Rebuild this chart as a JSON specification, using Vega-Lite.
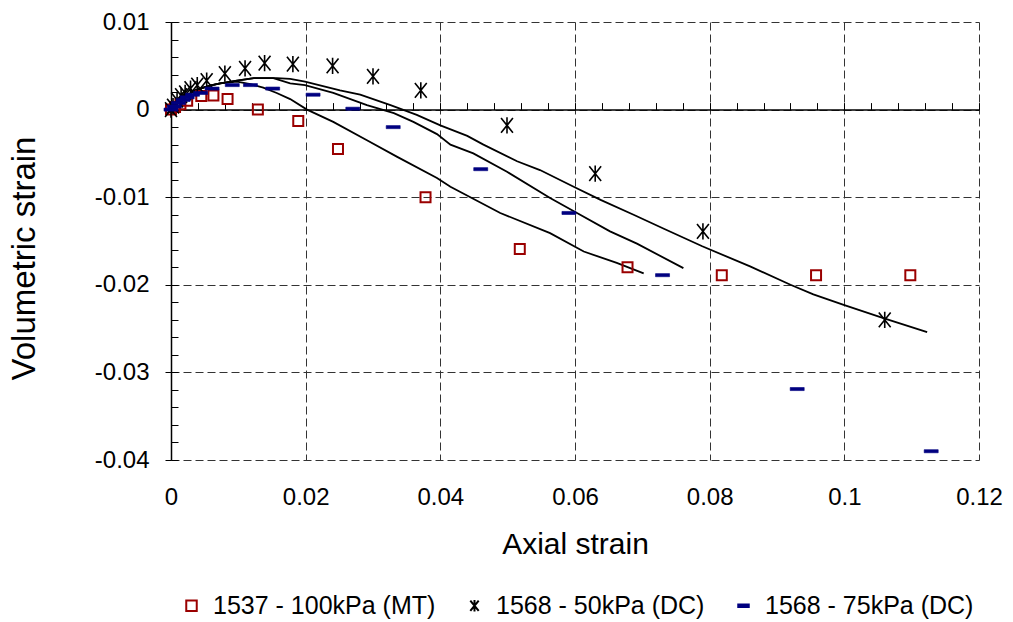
{
  "$schema": "https://vega.github.io/schema/vega-lite/v6.json",
  "width": 808,
  "height": 438,
  "autosize": {"type": "none"},
  "padding": {"left": 171, "top": 22, "right": 34, "bottom": 162},
  "background": "white",
  "config": {
    "view": {"stroke": null},
    "font": "Liberation Sans",
    "axis": {"labelFont": "Liberation Sans", "titleFont": "Liberation Sans", "labelColor": "#000", "titleColor": "#000", "titleFontWeight": "normal"},
    "legend": {"labelFont": "Liberation Sans", "labelFontSize": 25, "labelColor": "#000", "padding": 0, "labelOffset": 9, "columnPadding": 26, "symbolSize": 110, "symbolStrokeWidth": 2, "labelLimit": 400}
  },
  "datasets": {
    "curves": [
      {"curve": "A", "x": 0, "y": 0}, {"curve": "A", "x": 0.00034, "y": 0.00024}, {"curve": "A", "x": 0.0009, "y": 0.00064}, {"curve": "A", "x": 0.0015, "y": 0.0011}, {"curve": "A", "x": 0.0024, "y": 0.0016}, {"curve": "A", "x": 0.0036, "y": 0.0022}, {"curve": "A", "x": 0.0048, "y": 0.0025}, {"curve": "A", "x": 0.0061, "y": 0.0028}, {"curve": "A", "x": 0.0073, "y": 0.003}, {"curve": "A", "x": 0.0098, "y": 0.0032},
      {"curve": "A", "x": 0.0118, "y": 0.0029}, {"curve": "A", "x": 0.0137, "y": 0.0025}, {"curve": "A", "x": 0.0157, "y": 0.0019}, {"curve": "A", "x": 0.0177, "y": 0.0012}, {"curve": "A", "x": 0.0202, "y": 0.0}, {"curve": "A", "x": 0.0241, "y": -0.0014}, {"curve": "A", "x": 0.0291, "y": -0.0035}, {"curve": "A", "x": 0.0336, "y": -0.0054}, {"curve": "A", "x": 0.0395, "y": -0.0078}, {"curve": "A", "x": 0.0415, "y": -0.0088}, {"curve": "A", "x": 0.0489, "y": -0.0118}, {"curve": "A", "x": 0.0563, "y": -0.0141}, {"curve": "A", "x": 0.0613, "y": -0.0162}, {"curve": "A", "x": 0.0662, "y": -0.0175}, {"curve": "A", "x": 0.0702, "y": -0.0187},
      {"curve": "B", "x": 0, "y": 0}, {"curve": "B", "x": 0.00034, "y": 0.00024}, {"curve": "B", "x": 0.0009, "y": 0.00064}, {"curve": "B", "x": 0.0015, "y": 0.0011}, {"curve": "B", "x": 0.0024, "y": 0.0016}, {"curve": "B", "x": 0.0036, "y": 0.0022}, {"curve": "B", "x": 0.0048, "y": 0.0025}, {"curve": "B", "x": 0.0061, "y": 0.0028}, {"curve": "B", "x": 0.0073, "y": 0.003}, {"curve": "B", "x": 0.0098, "y": 0.0033},
      {"curve": "B", "x": 0.0123, "y": 0.0036}, {"curve": "B", "x": 0.0152, "y": 0.0036}, {"curve": "B", "x": 0.0177, "y": 0.003}, {"curve": "B", "x": 0.0199, "y": 0.0028}, {"curve": "B", "x": 0.0241, "y": 0.0019}, {"curve": "B", "x": 0.0291, "y": 0.0005}, {"curve": "B", "x": 0.0331, "y": -0.0004}, {"curve": "B", "x": 0.036, "y": -0.0014}, {"curve": "B", "x": 0.0395, "y": -0.0028}, {"curve": "B", "x": 0.0415, "y": -0.004}, {"curve": "B", "x": 0.0449, "y": -0.005}, {"curve": "B", "x": 0.0499, "y": -0.0071}, {"curve": "B", "x": 0.0563, "y": -0.0101}, {"curve": "B", "x": 0.0603, "y": -0.0118}, {"curve": "B", "x": 0.0652, "y": -0.0139}, {"curve": "B", "x": 0.0692, "y": -0.0153}, {"curve": "B", "x": 0.0761, "y": -0.0181},
      {"curve": "C", "x": 0, "y": 0}, {"curve": "C", "x": 0.00034, "y": 0.00024}, {"curve": "C", "x": 0.0009, "y": 0.00064}, {"curve": "C", "x": 0.0015, "y": 0.0011}, {"curve": "C", "x": 0.0024, "y": 0.0016}, {"curve": "C", "x": 0.0036, "y": 0.0022}, {"curve": "C", "x": 0.0048, "y": 0.0025}, {"curve": "C", "x": 0.0061, "y": 0.0028}, {"curve": "C", "x": 0.0073, "y": 0.003}, {"curve": "C", "x": 0.0098, "y": 0.0033},
      {"curve": "C", "x": 0.0123, "y": 0.0036}, {"curve": "C", "x": 0.0157, "y": 0.0036}, {"curve": "C", "x": 0.0177, "y": 0.0035}, {"curve": "C", "x": 0.0199, "y": 0.0032}, {"curve": "C", "x": 0.0251, "y": 0.0022}, {"curve": "C", "x": 0.0281, "y": 0.0017}, {"curve": "C", "x": 0.0326, "y": 0.0005}, {"curve": "C", "x": 0.0365, "y": -0.0006}, {"curve": "C", "x": 0.04, "y": -0.0018}, {"curve": "C", "x": 0.044, "y": -0.003}, {"curve": "C", "x": 0.0464, "y": -0.004}, {"curve": "C", "x": 0.0514, "y": -0.0059}, {"curve": "C", "x": 0.0548, "y": -0.0069}, {"curve": "C", "x": 0.0598, "y": -0.0088}, {"curve": "C", "x": 0.0638, "y": -0.0103}, {"curve": "C", "x": 0.0687, "y": -0.012}, {"curve": "C", "x": 0.0732, "y": -0.0136}, {"curve": "C", "x": 0.0789, "y": -0.0156}, {"curve": "C", "x": 0.086, "y": -0.0179}, {"curve": "C", "x": 0.092, "y": -0.02}, {"curve": "C", "x": 0.0954, "y": -0.0211}, {"curve": "C", "x": 0.0999, "y": -0.0223}, {"curve": "C", "x": 0.1058, "y": -0.0238}, {"curve": "C", "x": 0.1123, "y": -0.0254}
    ],
    "pts": [
      {"series": "1537 - 100kPa (MT)", "x": 0, "y": 0}, {"series": "1537 - 100kPa (MT)", "x": 0.0006, "y": 0.0003}, {"series": "1537 - 100kPa (MT)", "x": 0.0014, "y": 0.0006}, {"series": "1537 - 100kPa (MT)", "x": 0.0024, "y": 0.001}, {"series": "1537 - 100kPa (MT)", "x": 0.0045, "y": 0.00155}, {"series": "1537 - 100kPa (MT)", "x": 0.0063, "y": 0.0016}, {"series": "1537 - 100kPa (MT)", "x": 0.0084, "y": 0.0012}, {"series": "1537 - 100kPa (MT)", "x": 0.0129, "y": 0.0}, {"series": "1537 - 100kPa (MT)", "x": 0.0189, "y": -0.0013}, {"series": "1537 - 100kPa (MT)", "x": 0.0248, "y": -0.0045}, {"series": "1537 - 100kPa (MT)", "x": 0.0378, "y": -0.01}, {"series": "1537 - 100kPa (MT)", "x": 0.0518, "y": -0.0159}, {"series": "1537 - 100kPa (MT)", "x": 0.0678, "y": -0.018}, {"series": "1537 - 100kPa (MT)", "x": 0.0818, "y": -0.0189}, {"series": "1537 - 100kPa (MT)", "x": 0.0958, "y": -0.0189}, {"series": "1537 - 100kPa (MT)", "x": 0.1098, "y": -0.0189},
      {"series": "1568 - 50kPa (DC)", "x": 0, "y": 0}, {"series": "1568 - 50kPa (DC)", "x": 0.0003, "y": 0.0004}, {"series": "1568 - 50kPa (DC)", "x": 0.0009, "y": 0.0011}, {"series": "1568 - 50kPa (DC)", "x": 0.0015, "y": 0.0016}, {"series": "1568 - 50kPa (DC)", "x": 0.0021, "y": 0.0019}, {"series": "1568 - 50kPa (DC)", "x": 0.0029, "y": 0.0024}, {"series": "1568 - 50kPa (DC)", "x": 0.0039, "y": 0.0028}, {"series": "1568 - 50kPa (DC)", "x": 0.0053, "y": 0.0033}, {"series": "1568 - 50kPa (DC)", "x": 0.008, "y": 0.0041}, {"series": "1568 - 50kPa (DC)", "x": 0.011, "y": 0.0047}, {"series": "1568 - 50kPa (DC)", "x": 0.0139, "y": 0.0053}, {"series": "1568 - 50kPa (DC)", "x": 0.0181, "y": 0.0052}, {"series": "1568 - 50kPa (DC)", "x": 0.024, "y": 0.005}, {"series": "1568 - 50kPa (DC)", "x": 0.03, "y": 0.0038}, {"series": "1568 - 50kPa (DC)", "x": 0.0371, "y": 0.0022}, {"series": "1568 - 50kPa (DC)", "x": 0.0499, "y": -0.0018}, {"series": "1568 - 50kPa (DC)", "x": 0.063, "y": -0.0073}, {"series": "1568 - 50kPa (DC)", "x": 0.079, "y": -0.0139}, {"series": "1568 - 50kPa (DC)", "x": 0.106, "y": -0.024},
      {"series": "1568 - 75kPa (DC)", "x": 0, "y": 0}, {"series": "1568 - 75kPa (DC)", "x": 0.0005, "y": 0.00035}, {"series": "1568 - 75kPa (DC)", "x": 0.0011, "y": 0.00075}, {"series": "1568 - 75kPa (DC)", "x": 0.0018, "y": 0.0011}, {"series": "1568 - 75kPa (DC)", "x": 0.0024, "y": 0.0014}, {"series": "1568 - 75kPa (DC)", "x": 0.0032, "y": 0.0017}, {"series": "1568 - 75kPa (DC)", "x": 0.0044, "y": 0.0019}, {"series": "1568 - 75kPa (DC)", "x": 0.0061, "y": 0.0024}, {"series": "1568 - 75kPa (DC)", "x": 0.0091, "y": 0.0028}, {"series": "1568 - 75kPa (DC)", "x": 0.0118, "y": 0.0028}, {"series": "1568 - 75kPa (DC)", "x": 0.0151, "y": 0.0024}, {"series": "1568 - 75kPa (DC)", "x": 0.0211, "y": 0.0017}, {"series": "1568 - 75kPa (DC)", "x": 0.027, "y": 0.0001}, {"series": "1568 - 75kPa (DC)", "x": 0.033, "y": -0.002}, {"series": "1568 - 75kPa (DC)", "x": 0.046, "y": -0.0068}, {"series": "1568 - 75kPa (DC)", "x": 0.0591, "y": -0.0118}, {"series": "1568 - 75kPa (DC)", "x": 0.073, "y": -0.0189}, {"series": "1568 - 75kPa (DC)", "x": 0.093, "y": -0.0319}, {"series": "1568 - 75kPa (DC)", "x": 0.1129, "y": -0.039}
    ]
  },
  "layer": [
    {
      "data": {"name": "curves"},
      "mark": {"type": "line", "color": "#000", "strokeWidth": 1.8, "clip": true},
      "encoding": {
        "x": {
          "field": "x", "type": "quantitative",
          "scale": {"domain": [0, 0.12], "nice": false, "zero": false},
          "axis": {
            "orient": "bottom", "title": "Axial strain", "titleFontSize": 30, "titleY": 93, "titleBaseline": "alphabetic",
            "values": [0, 0.02, 0.04, 0.06, 0.08, 0.1, 0.12],
            "labelExpr": "format(datum.value, '')", "labelFontSize": 24, "labelPadding": 25, "labelFlush": false, "labelOverlap": false,
            "ticks": false, "tickSize": 0, "domain": false,
            "grid": true, "gridColor": "#333", "gridDash": [8, 4], "gridWidth": 1, "gridOpacity": 1
          }
        },
        "y": {
          "field": "y", "type": "quantitative",
          "scale": {"domain": [-0.04, 0.01], "nice": false, "zero": false},
          "axis": {
            "orient": "left", "title": "Volumetric strain", "titleFontSize": 33, "titleAngle": -90, "titleX": -147, "titleY": 236, "titleAlign": "center", "titleBaseline": "middle",
            "values": [-0.04, -0.03, -0.02, -0.01, 0, 0.01],
            "labelExpr": "datum.value == 0 ? '0' : (datum.value < 0 ? '-' + format(-datum.value, '') : format(datum.value, ''))",
            "labelFontSize": 24, "labelPadding": 16, "labelFlush": false, "labelOverlap": false,
            "ticks": true, "tickSize": 6, "tickColor": "#000", "tickWidth": 1,
            "domain": true, "domainColor": "#000", "domainWidth": 1.5,
            "grid": true, "gridColor": "#333", "gridDash": [8, 4], "gridWidth": 1, "gridOpacity": 1
          }
        },
        "detail": {"field": "curve"}
      }
    },
    {
      "data": {"name": "pts"},
      "mark": {"type": "point", "filled": false, "opacity": 1},
      "encoding": {
        "x": {
          "field": "x", "type": "quantitative",
          "axis": {
            "orient": "top", "offset": -87.6, "title": null, "labels": false, "grid": false,
            "values": [0, 0.004, 0.008, 0.012, 0.016, 0.02, 0.024, 0.028, 0.032, 0.036, 0.04, 0.044, 0.048, 0.052, 0.056, 0.06, 0.064, 0.068, 0.072, 0.076, 0.08, 0.084, 0.088, 0.092, 0.096, 0.1, 0.104, 0.108, 0.112, 0.116, 0.12],
            "ticks": true, "tickSize": 7, "tickColor": "#000", "tickWidth": 1,
            "domain": true, "domainColor": "#000", "domainWidth": 1.5
          }
        },
        "y": {
          "field": "y", "type": "quantitative",
          "axis": {
            "orient": "left", "title": null, "labels": false, "grid": false, "domain": false,
            "values": [-0.04, -0.038, -0.036, -0.034, -0.032, -0.03, -0.028, -0.026, -0.024, -0.022, -0.02, -0.018, -0.016, -0.014, -0.012, -0.01, -0.008, -0.006, -0.004, -0.002, 0, 0.002, 0.004, 0.006, 0.008, 0.01],
            "ticks": true, "tickSize": -7, "tickColor": "#000", "tickWidth": 1
          }
        },
        "shape": {
          "field": "series", "type": "nominal",
          "scale": {"domain": ["1537 - 100kPa (MT)", "1568 - 50kPa (DC)", "1568 - 75kPa (DC)"], "range": ["square", "M-0.8,-1L0.8,1M-0.8,1L0.8,-1M0,-1.1L0,1.1", "M-1,-0.22H1V0.22H-1Z"]},
          "legend": {"title": null, "orient": "none", "direction": "horizontal", "legendX": 8, "legendY": 571}
        },
        "stroke": {
          "field": "series", "type": "nominal",
          "scale": {"domain": ["1537 - 100kPa (MT)", "1568 - 50kPa (DC)", "1568 - 75kPa (DC)"], "range": ["#9a0000", "#000000", "#000080"]},
          "legend": {"title": null, "orient": "none", "direction": "horizontal", "legendX": 8, "legendY": 571}
        },
        "fill": {
          "field": "series", "type": "nominal",
          "scale": {"domain": ["1537 - 100kPa (MT)", "1568 - 50kPa (DC)", "1568 - 75kPa (DC)"], "range": ["transparent", "transparent", "#000080"]},
          "legend": {"title": null, "orient": "none", "direction": "horizontal", "legendX": 8, "legendY": 571}
        },
        "strokeWidth": {
          "condition": [
            {"test": "datum.series == '1568 - 50kPa (DC)'", "value": 1.6},
            {"test": "datum.series == '1568 - 75kPa (DC)'", "value": 0.6}
          ],
          "value": 2
        },
        "size": {
          "condition": [
            {"test": "datum.series == '1568 - 50kPa (DC)'", "value": 220},
            {"test": "datum.series == '1568 - 75kPa (DC)'", "value": 196}
          ],
          "value": 100
        }
      }
    }
  ],
  "resolve": {"axis": {"x": "independent", "y": "independent"}}
}
